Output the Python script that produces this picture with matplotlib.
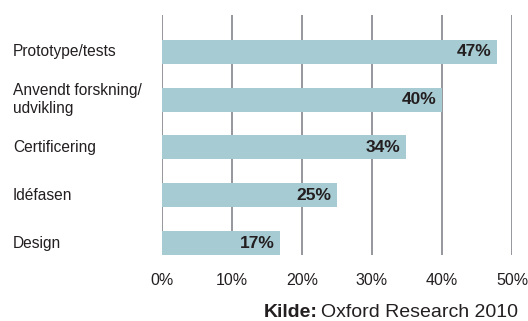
import matplotlib.pyplot as plt
from matplotlib.transforms import blended_transform_factory

plt.rcParams['font.family'] = ['Liberation Sans', 'DejaVu Sans']

categories = ["Prototype/tests", "Anvendt forskning/\nudvikling", "Certificering", "Idéfasen", "Design"]
values = [47.8, 40.0, 34.8, 25.0, 16.9]
value_labels = ["47%", "40%", "34%", "25%", "17%"]
ticks = [0, 10, 20, 30, 40, 50]
tick_labels = ["0%", "10%", "20%", "30%", "40%", "50%"]

bar_color = "#a7cbd3"
grid_color = "#8c8f95"
text_color = "#231f20"

fig = plt.figure(figsize=(5.28, 3.21), dpi=100)
ax = fig.add_axes([0.3068, 0.2056, 0.6629, 0.7477])

ypos = list(range(len(categories)))[::-1]
ax.barh(ypos, values, height=0.5, color=bar_color, zorder=2)

for y, v, lab in zip(ypos, values, value_labels):
    ax.text(v - 0.8, y, lab, ha="right", va="center", fontsize=12.5,
            fontweight="bold", color=text_color, zorder=3)

# category labels, left aligned at the figure edge
trans = blended_transform_factory(fig.transFigure, ax.transData)
for y, c in zip(ypos, categories):
    ax.text(13 / 528, y, c, transform=trans, ha="left", va="center",
            fontsize=11.2, color=text_color, linespacing=1.25)

ax.set_xlim(0, 50)
ax.set_ylim(-0.25, 4.77)
ax.set_xticks(ticks)
ax.set_xticklabels(tick_labels, fontsize=11.5, color=text_color)
ax.set_yticks([])
ax.tick_params(axis="x", length=0, pad=13)

for t in ticks:
    ax.axvline(t, color=grid_color, lw=1.3, zorder=1)
for s in ax.spines.values():
    s.set_visible(False)

fig.text(264 / 528, 0.014, "Kilde:", fontsize=14, fontweight="bold", color=text_color, ha="left", va="baseline")
fig.text(321 / 528, 0.014, "Oxford Research 2010", fontsize=14, color=text_color, ha="left", va="baseline")

fig.savefig("out.png", dpi=100)
